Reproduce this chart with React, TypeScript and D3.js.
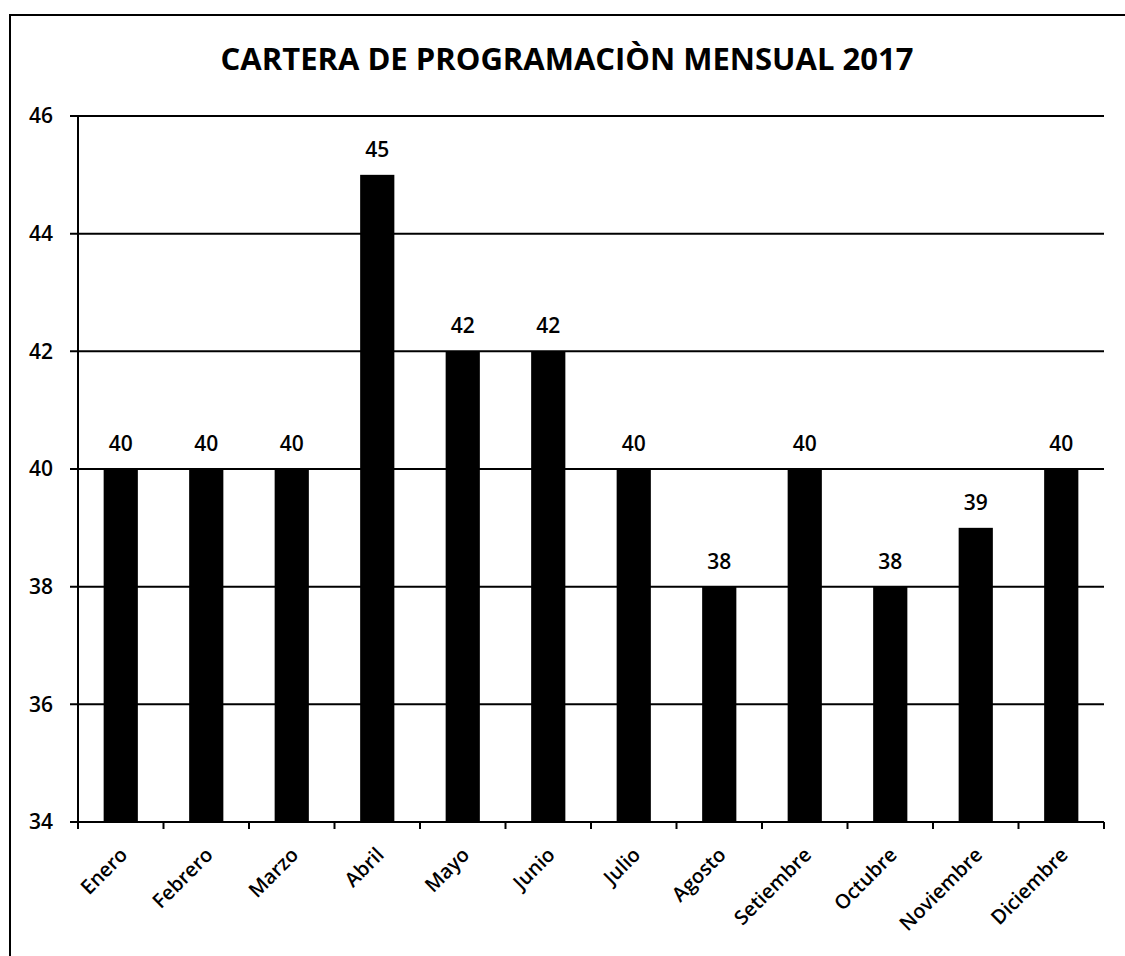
import React from "react";
import * as d3 from "d3";

const months = ["Enero", "Febrero", "Marzo", "Abril", "Mayo", "Junio", "Julio", "Agosto", "Setiembre", "Octubre", "Noviembre", "Diciembre"];
const values = [40, 40, 40, 45, 42, 42, 40, 38, 40, 38, 39, 40];
const yTicks = [34, 36, 38, 40, 42, 44, 46];
const title = "CARTERA DE PROGRAMACIÒN MENSUAL 2017";

const W = 1125;
const H = 956;
const left = 78;
const right = 1104;
const top = 116;
const bottom = 822;
const font = "'Open Sans', 'Noto Sans', sans-serif";

export default function App() {
  const x = d3.scaleBand<string>().domain(months).range([left, right]).paddingInner(0.6).paddingOuter(0.3);
  const y = d3.scaleLinear().domain([34, 46]).range([bottom, top]);
  const step = (right - left) / months.length;

  return (
    <svg width={W} height={H} style={{ position: "absolute", left: 0, top: 0, background: "#fff" }}>
      <rect x={10} y={15} width={W + 20} height={H + 20} fill="none" stroke="#000" strokeWidth={2} />
      <text x={567} y={70} textAnchor="middle" fontFamily={font} fontWeight={700} fontSize={31} fill="#000">{title}</text>

      {/* gridlines */}
      {yTicks.map(t => (
        <g key={t}>
          <line x1={left - 8} x2={right} y1={y(t)} y2={y(t)} stroke="#000" strokeWidth={2} />
          <text x={53} y={y(t)} dy="0.35em" textAnchor="end" fontFamily={font} fontWeight={600} fontSize={21} fill="#000">{t}</text>
        </g>
      ))}

      {/* bars */}
      {months.map((m, i) => (
        <g key={m}>
          <rect x={x(m)} y={y(values[i])} width={x.bandwidth()} height={y(34) - y(values[i])} fill="#000" />
          <text x={x(m)! + x.bandwidth() / 2} y={y(values[i]) - 18} textAnchor="middle" fontFamily={font} fontWeight={600} fontSize={21} fill="#000">{values[i]}</text>
        </g>
      ))}

      {/* axes */}
      <line x1={left} x2={left} y1={top} y2={bottom} stroke="#000" strokeWidth={2} />
      <line x1={left} x2={right} y1={bottom} y2={bottom} stroke="#000" strokeWidth={2} />
      {d3.range(months.length + 1).map(k => (
        <line key={k} x1={left + k * step} x2={left + k * step} y1={bottom} y2={bottom + 7} stroke="#000" strokeWidth={2} />
      ))}
      {months.map(m => {
        const cx = x(m)! + x.bandwidth() / 2 + 8;
        const cy = bottom + 34;
        return (
          <text key={m} x={cx} y={cy} transform={`rotate(-45 ${cx} ${cy})`} textAnchor="end" fontFamily={font} fontWeight={600} fontSize={20} fill="#000">{m}</text>
        );
      })}
    </svg>
  );
}
